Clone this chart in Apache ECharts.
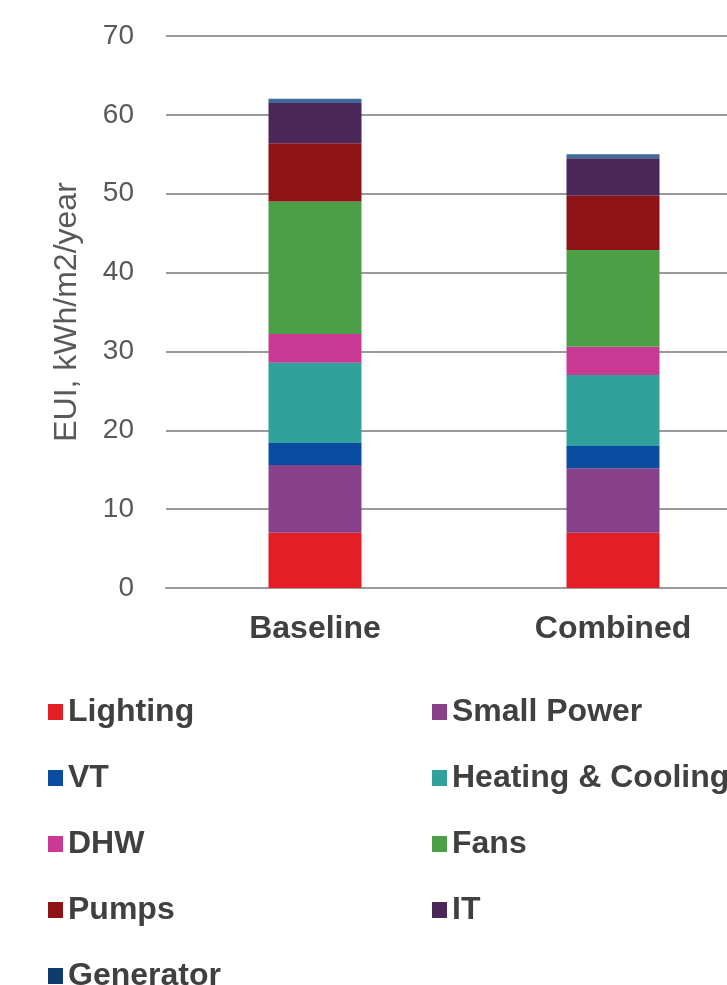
<!DOCTYPE html>
<html>
<head>
<meta charset="utf-8">
<script src="https://cdn.jsdelivr.net/npm/echarts@6/dist/echarts.min.js"></script>
<style>
html,body{margin:0;padding:0;background:#fff;}
#chart{width:727px;height:985px;}
</style>
</head>
<body>
<div id="chart"></div>
<script>
var categories = ['Baseline', 'Combined'];
var seriesNames = ['Lighting', 'Small Power', 'VT', 'Heating & Cooling', 'DHW', 'Fans', 'Pumps', 'IT', 'Generator'];
var lighting = [7.0, 7.0];
var smallPower = [8.6, 8.2];
var vt = [2.8, 2.8];
var heatingCooling = [10.15, 9.0];
var dhw = [3.65, 3.6];
var fans = [16.8, 12.25];
var pumps = [7.4, 6.9];
var it = [5.1, 4.75];
var generator = [0.55, 0.5];
var yTicks = [0, 10, 20, 30, 40, 50, 60, 70];

var colors = ['#E31E26', '#87428A', '#0A4C9F', '#31A19B', '#C93A94', '#4C9F47', '#8E1216', '#4B2758', '#3F6A9A'];
var legendColors = ['#E31E26', '#87428A', '#0A4C9F', '#31A19B', '#C93A94', '#4C9F47', '#8E1216', '#4B2758', '#0E3B6C'];
var values = [lighting, smallPower, vt, heatingCooling, dhw, fans, pumps, it, generator];

var series = seriesNames.map(function (n, i) {
  return {
    name: n,
    type: 'bar',
    stack: 'total',
    barWidth: 93,
    data: values[i],
    itemStyle: { color: colors[i] },
    emphasis: { disabled: true }
  };
});

var legendFont = { fontFamily: 'Liberation Sans, Arial, sans-serif', fontSize: 32, fontWeight: 'bold', color: '#404040', lineHeight: 32 };
function legendData(names) {
  return names.map(function (n) {
    return { name: n, itemStyle: { color: legendColors[seriesNames.indexOf(n)] } };
  });
}

var chart = echarts.init(document.getElementById('chart'), null, { renderer: 'canvas' });
chart.setOption({
  animation: false,
  backgroundColor: '#ffffff',
  grid: { left: 166, width: 596, top: 36, height: 552, containLabel: false, outerBoundsMode: 'none' },
  xAxis: {
    type: 'category',
    data: categories,
    axisTick: { show: false },
    axisLine: { show: true, lineStyle: { color: '#9a9a9a', width: 2 } },
    axisLabel: { margin: 25, fontFamily: 'Liberation Sans, Arial, sans-serif', fontSize: 32, fontWeight: 'bold', color: '#404040' }
  },
  yAxis: {
    type: 'value',
    min: yTicks[0],
    max: yTicks[yTicks.length - 1],
    interval: 10,
    name: 'EUI, kWh/m2/year',
    nameLocation: 'middle',
    nameRotate: 90,
    nameGap: 83,
    nameTextStyle: { fontFamily: 'Liberation Sans, Arial, sans-serif', fontSize: 32, color: '#595959' },
    axisLine: { show: false },
    axisTick: { show: false },
    axisLabel: { margin: 32, fontFamily: 'Liberation Sans, Arial, sans-serif', fontSize: 28, color: '#595959' },
    splitLine: { lineStyle: { color: '#9a9a9a', width: 2 } }
  },
  legend: [
    {
      orient: 'vertical', left: 43, top: 691, height: 400, itemGap: 34, itemWidth: 15, itemHeight: 16,
      icon: 'rect', textStyle: legendFont, selectedMode: false,
      data: legendData(['Lighting', 'VT', 'DHW', 'Pumps', 'Generator'])
    },
    {
      orient: 'vertical', left: 427, top: 691, height: 400, itemGap: 34, itemWidth: 15, itemHeight: 16,
      icon: 'rect', textStyle: legendFont, selectedMode: false,
      data: legendData(['Small Power', 'Heating & Cooling', 'Fans', 'IT'])
    }
  ],
  series: series
});
</script>
</body>
</html>
